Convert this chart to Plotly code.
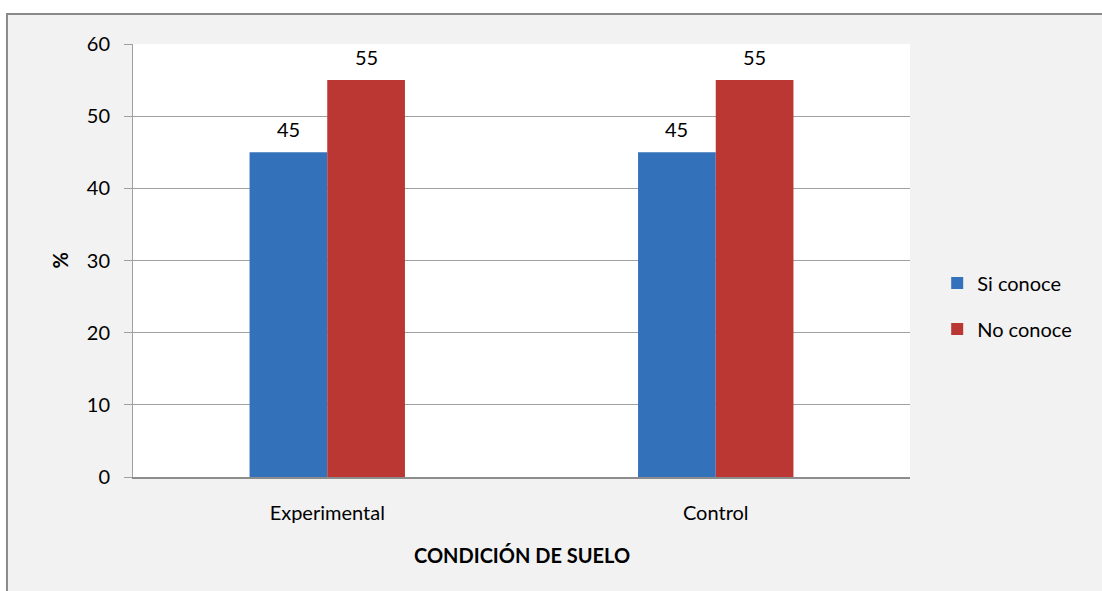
import plotly.graph_objects as go

# data
categories = ["Experimental", "Control"]
si_conoce = [45, 45]
no_conoce = [55, 55]
y_ticks = [0, 10, 20, 30, 40, 50, 60]

font_name = "Lato, Carlito, Calibri, sans-serif"

fig = go.Figure()
fig.add_trace(go.Bar(x=categories, y=si_conoce, name="Si conoce",
                     marker=dict(color="#3471bb", line=dict(width=0)),
                     legendgroup="a"))
fig.add_trace(go.Bar(x=categories, y=no_conoce, name="No conoce",
                     marker=dict(color="#ba3734", line=dict(width=0)),
                     legendgroup="b"))

# value labels above the bars (a bit more gap than plotly's outside text)
labels = []
for vals, shift in [(si_conoce, -39), (no_conoce, 39)]:
    for cat, v in zip(categories, vals):
        labels.append(dict(x=cat, y=v, text=str(v), xshift=shift, yshift=9,
                           xanchor="center", yanchor="bottom", showarrow=False,
                           font=dict(size=20)))

fig.update_layout(
    width=1102, height=591,
    margin=dict(l=133, r=192, t=44, b=114),
    paper_bgcolor="white",
    plot_bgcolor="rgba(0,0,0,0)",
    font=dict(family=font_name, size=20, color="black"),
    barmode="group",
    bargap=0.6,
    bargroupgap=0,
    showlegend=True,
    legend=dict(x=1.035, y=0.395, xanchor="left", yanchor="middle",
                bgcolor="rgba(0,0,0,0)", font=dict(size=20),
                traceorder="grouped", tracegroupgap=17),
    xaxis=dict(showgrid=False, showline=True, linecolor="#8c8c8c", linewidth=2,
               ticks="", ticklabelstandoff=17),
    yaxis=dict(range=[0, 60], tickvals=y_ticks, showgrid=True, gridcolor="#a0a0a0",
               gridwidth=1, showline=True, linecolor="#a0a0a0", linewidth=1,
               ticks="outside", ticklen=8, tickcolor="#a0a0a0",
               ticklabelstandoff=10, zeroline=False),
    shapes=[
        # chart area frame
        dict(type="rect", xref="paper", yref="paper", layer="below",
             x0=-0.1622, x1=1.3, y0=-0.4, y1=1.0693,
             fillcolor="#f2f2f2", line=dict(color="#8a8a8a", width=2)),
        # plot area
        dict(type="rect", xref="paper", yref="paper", layer="below",
             x0=0, x1=1, y0=0, y1=1,
             fillcolor="white", line=dict(width=0)),
    ],
    annotations=labels + [
        dict(text="<b>%</b>", xref="paper", yref="paper", x=-0.094, y=0.5,
             xanchor="center", yanchor="middle",
             textangle=-90, showarrow=False, font=dict(size=20)),
        dict(text="<b>CONDICIÓN DE SUELO</b>", xref="paper", yref="paper",
             x=0.5, y=-0.18, xanchor="center", yanchor="middle",
             showarrow=False, font=dict(size=20)),
    ],
)

# drop the default page margin so the figure sits at the window's corner
fig.write_html("out.html",
               config={"displayModeBar": False},
               post_script="document.body.style.margin='0';"
                           "document.body.style.overflow='hidden';")
